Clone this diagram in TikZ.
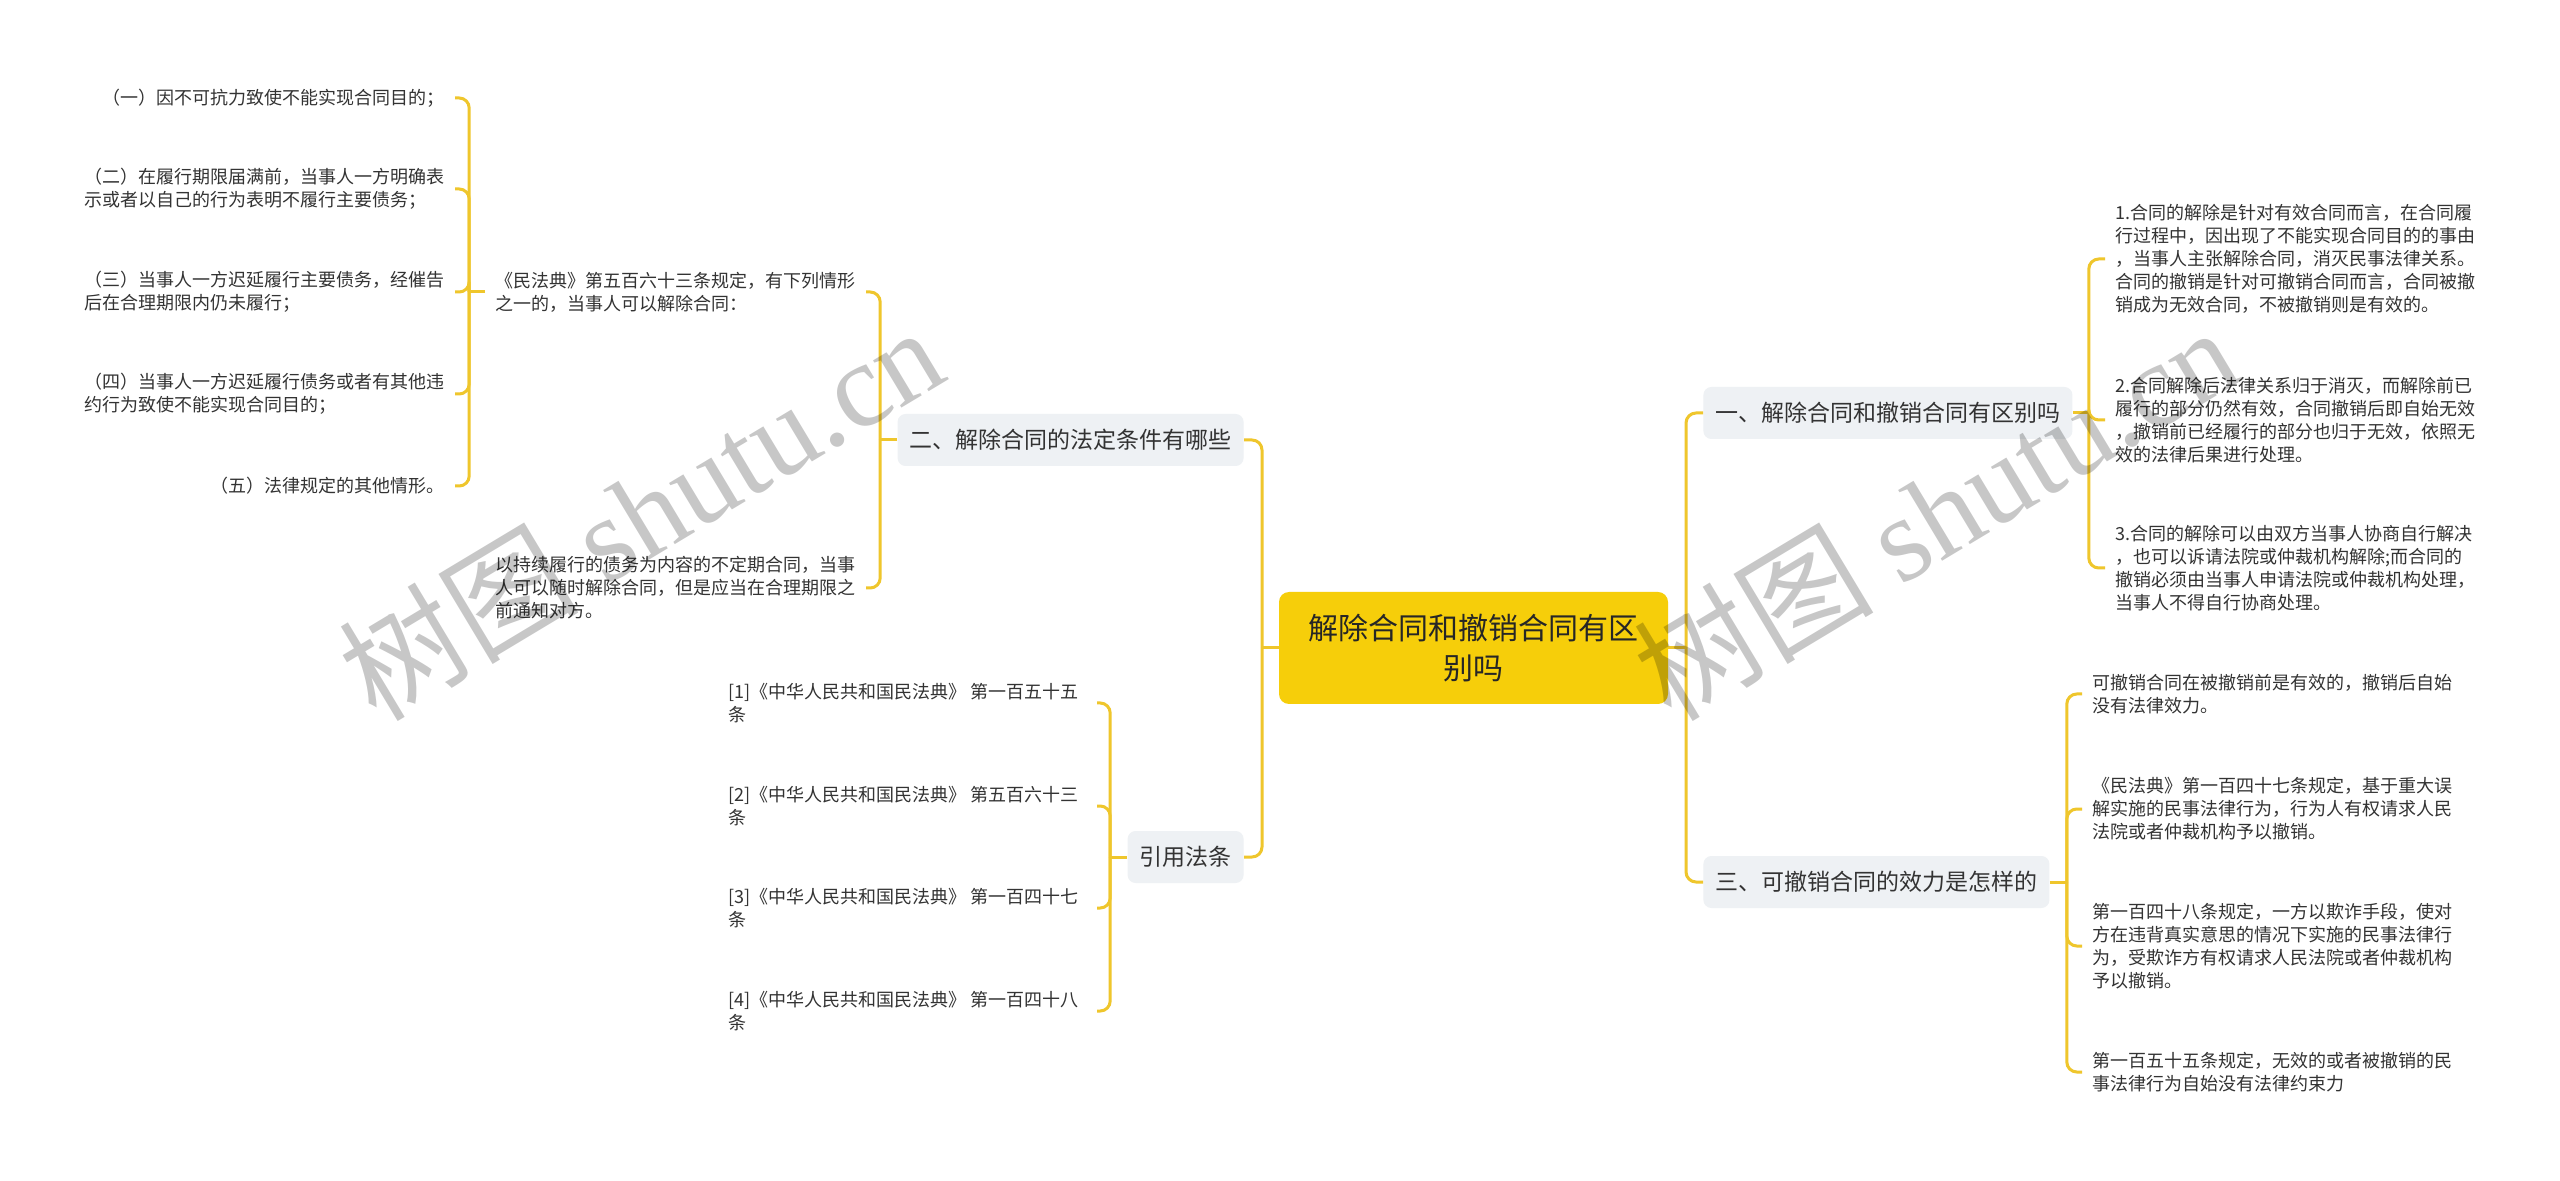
\documentclass[tikz,border=0pt]{standalone}
\usepackage{fontspec}
\setmainfont{Noto Sans CJK SC}
\newfontfamily\wmlatin{Liberation Serif}
\usetikzlibrary{positioning}
\definecolor{rootyellow}{HTML}{F6CE0A}
\definecolor{linkyellow}{HTML}{EFC62C}
\definecolor{branchgray}{HTML}{EEF1F4}
\definecolor{textgray}{HTML}{333333}
\tikzset{
  link/.style={draw=linkyellow, line width=1.5pt, rounded corners=5pt},
  leaf/.style={font=\fontsize{9pt}{11.5pt}\selectfont, text=textgray, align=left, inner xsep=5pt, inner ysep=2pt},
  reftext/.style={leaf, inner xsep=9pt},
  branch/.style={fill=branchgray, rounded corners=4pt, font=\fontsize{11.5pt}{14pt}\selectfont, text=textgray, inner xsep=6pt, minimum height=26pt},
  root/.style={fill=rootyellow, rounded corners=5pt, font=\fontsize{15pt}{20pt}\selectfont, text=black!85, align=center, minimum width=194.5pt, minimum height=56pt},
  watermark/.style={text=black, text opacity=0.22, font=\fontsize{60pt}{64pt}\selectfont, rotate=31}
}
\begin{document}
\begin{tikzpicture}[x=0.5pt,y=-0.5pt]
    \useasboundingbox[fill=white] (0,0) rectangle (2560,1181);
    \node[root] (root) at (1473.5,648) {解除合同和撤销合同有区\\别吗};
    \node[branch,anchor=east] (cond) at (1244,440) {二、解除合同的法定条件有哪些};
    \node[branch,anchor=east] (refs) at (1244,857) {引用法条};
    \node[branch,anchor=west] (diff) at (1703,413) {一、解除合同和撤销合同有区别吗};
    \node[branch,anchor=west] (eff) at (1703,882) {三、可撤销合同的效力是怎样的};

    \node[leaf,anchor=east] (law) at (866,292) {《民法典》第五百六十三条规定，有下列情形\\之一的，当事人可以解除合同：};
    \node[leaf,anchor=east] (notice) at (866,588) {以持续履行的债务为内容的不定期合同，当事\\人可以随时解除合同，但是应当在合理期限之\\前通知对方。};
    \node[leaf,anchor=east] (ia) at (455,98) {（一）因不可抗力致使不能实现合同目的；};
    \node[leaf,anchor=east] (ib) at (455,189) {（二）在履行期限届满前，当事人一方明确表\\示或者以自己的行为表明不履行主要债务；};
    \node[leaf,anchor=east] (ic) at (455,292) {（三）当事人一方迟延履行主要债务，经催告\\后在合理期限内仍未履行；};
    \node[leaf,anchor=east] (id) at (455,394) {（四）当事人一方迟延履行债务或者有其他违\\约行为致使不能实现合同目的；};
    \node[leaf,anchor=east] (ie) at (455,486) {（五）法律规定的其他情形。};

    \node[reftext,anchor=east] (ra) at (1097,703) {[1]《中华人民共和国民法典》 第一百五十五\\条};
    \node[reftext,anchor=east] (rb) at (1097,806) {[2]《中华人民共和国民法典》 第五百六十三\\条};
    \node[reftext,anchor=east] (rc) at (1097,908) {[3]《中华人民共和国民法典》 第一百四十七\\条};
    \node[reftext,anchor=east] (rd) at (1097,1011) {[4]《中华人民共和国民法典》 第一百四十八\\条};

    \node[leaf,anchor=west] (da) at (2105,259) {1.合同的解除是针对有效合同而言，在合同履\\行过程中，因出现了不能实现合同目的的事由\\，当事人主张解除合同，消灭民事法律关系。\\合同的撤销是针对可撤销合同而言，合同被撤\\销成为无效合同，不被撤销则是有效的。};
    \node[leaf,anchor=west] (db) at (2105,420) {2.合同解除后法律关系归于消灭，而解除前已\\履行的部分仍然有效，合同撤销后即自始无效\\，撤销前已经履行的部分也归于无效，依照无\\效的法律后果进行处理。};
    \node[leaf,anchor=west] (dc) at (2105,568) {3.合同的解除可以由双方当事人协商自行解决\\，也可以诉请法院或仲裁机构解除;而合同的\\撤销必须由当事人申请法院或仲裁机构处理，\\当事人不得自行协商处理。};

    \node[leaf,anchor=west] (ea) at (2082,694) {可撤销合同在被撤销前是有效的，撤销后自始\\没有法律效力。};
    \node[leaf,anchor=west] (eb) at (2082,809) {《民法典》第一百四十七条规定，基于重大误\\解实施的民事法律行为，行为人有权请求人民\\法院或者仲裁机构予以撤销。};
    \node[leaf,anchor=west] (ec) at (2082,946) {第一百四十八条规定，一方以欺诈手段，使对\\方在违背真实意思的情况下实施的民事法律行\\为，受欺诈方有权请求人民法院或者仲裁机构\\予以撤销。};
    \node[leaf,anchor=west] (ed) at (2082,1072) {第一百五十五条规定，无效的或者被撤销的民\\事法律行为自始没有法律约束力};

    \draw[link] (root.west) -- (1262,648) coordinate (lt);
    \foreach \n in {cond,refs} \draw[link] (lt) |- (\n.east);
    \draw[link] (root.east) -- (1686,648) coordinate (rt);
    \foreach \n in {diff,eff} \draw[link] (rt) |- (\n.west);

    \draw[link] (cond.west) -- ++(-17,0) coordinate (cb);
    \foreach \n in {law,notice} \draw[link] (cb) |- (\n.east);
    \draw[link] (law.west) -- ++(-16,0) coordinate (lb);
    \foreach \n in {ia,ib,ic,id,ie} \draw[link] (lb) |- (\n.east);
    \draw[link] (refs.west) -- ++(-17,0) coordinate (fb);
    \foreach \n in {ra,rb,rc,rd} \draw[link] (fb) |- (\n.east);
    \draw[link] (diff.east) -- ++(16,0) coordinate (db0);
    \foreach \n in {da,db,dc} \draw[link] (db0) |- (\n.west);
    \draw[link] (eff.east) -- ++(17,0) coordinate (eb0);
    \foreach \n in {ea,eb,ec,ed} \draw[link] (eb0) |- (\n.west);

    \node[watermark] (wma) at (640,512) {树图 {\wmlatin shutu.cn}};
    \node[watermark] (wmb) at (1935,512) {树图 {\wmlatin shutu.cn}};
\end{tikzpicture}
\end{document}
